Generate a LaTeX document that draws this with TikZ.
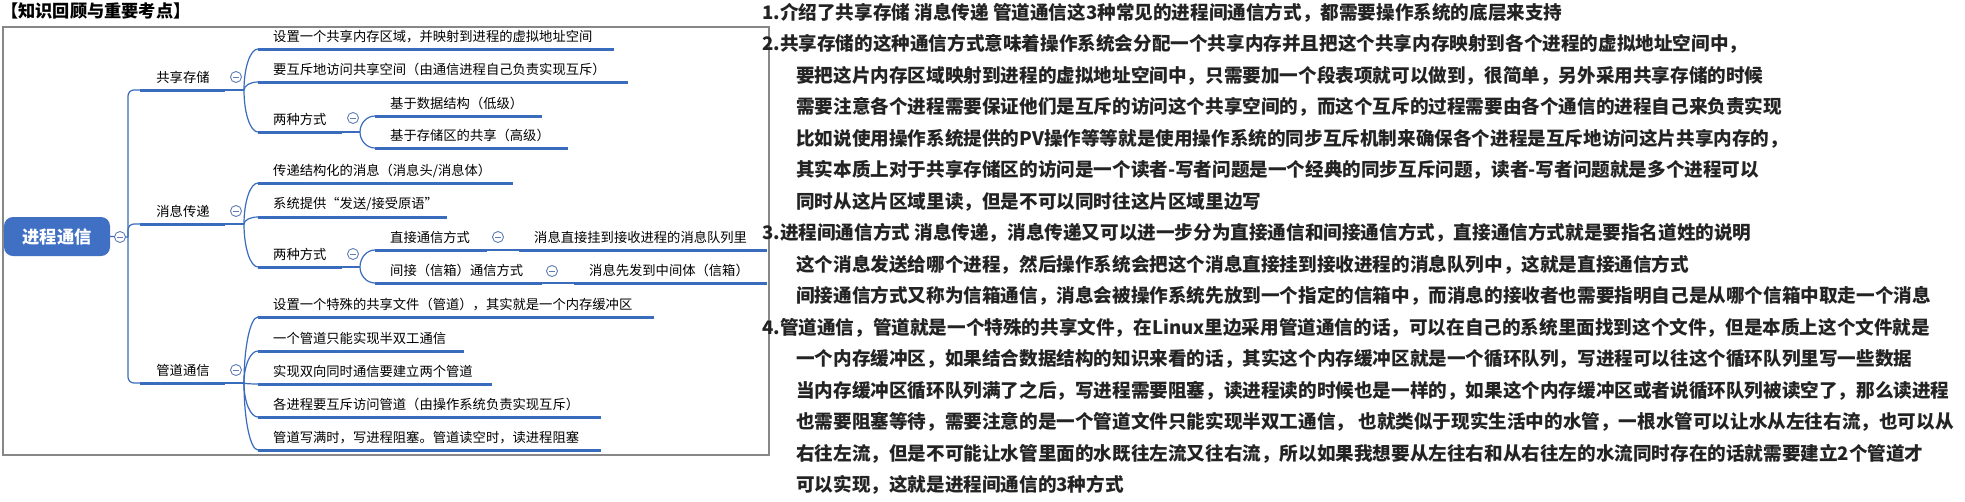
\documentclass[tikz,border=0pt]{standalone}
\usepackage{fontspec}
\setmainfont{Noto Sans CJK SC}
\usetikzlibrary{calc}
\definecolor{mmblue}{RGB}{58,108,190}
\definecolor{rootblue}{RGB}{64,112,196}
\definecolor{txtgray}{RGB}{35,35,35}
\definecolor{cirblue}{RGB}{95,125,180}
\definecolor{framegray}{RGB}{135,135,135}
\newcommand{\mmleaf}[5]{%
  \coordinate (#1s) at (#2,#4);
  \coordinate (#1e) at (#3,#4);
  \draw[ubar] (#1s) -- (#1e);
  \node[mmtext] (#1) at ({#2+15},{#4-12.5}) {#5};}
\newcommand{\mmcurve}[2]{%
  \draw[conn] let \p1=(#1), \p2=(#2) in (\p1) .. controls (\x1,{\y1+0.55*(\y2-\y1)}) and ({\x2-0.55*(\x2-\x1)},\y2) .. (\p2);}
\begin{document}
\begin{tikzpicture}[x=1pt,y=-1pt,
  mmtext/.style={anchor=west,inner sep=0pt,font=\fontsize{13.3}{15}\selectfont},
  maintext/.style={inner sep=0pt,font=\fontsize{13.3}{15}\selectfont},
  ubar/.style={draw=mmblue,line width=3pt},
  conn/.style={draw=mmblue,line width=1.2pt},
  rtext/.style={anchor=west,inner sep=0pt,text=txtgray,font=\fontsize{18.6}{22}\selectfont\bfseries},
  titletext/.style={anchor=west,inner sep=0pt,font=\fontsize{17.2}{20}\selectfont\bfseries},
  rootbox/.style={rectangle,rounded corners=9pt,fill=rootblue,text=white,minimum width=106pt,minimum height=39pt,inner sep=0pt,font=\fontsize{17.3}{20}\selectfont\bfseries},
  ccirc/.style={circle,draw=cirblue,fill=white,line width=0.9pt,minimum size=11pt,inner sep=0pt,
    path picture={\draw[cirblue,line width=0.9pt] ([xshift=-3pt]path picture bounding box.center) -- ([xshift=3pt]path picture bounding box.center);}}
]
\useasboundingbox (0,0) rectangle (1965,501);
\fill[white] (0,0) rectangle (1965,501);
\node[titletext] (title) at (1,11) {【知识回顾与重要考点】};
\draw[framegray,line width=1.2pt] (3,27) rectangle (769,455);

% root
\node[rootbox] (root) at (57,236.5) {进程通信};
\coordinate (j0) at (128,237);
\draw[conn] (root.east) -- (j0);

% main branches
\coordinate (m1s) at (140,90); \coordinate (m1e) at (225,90); \coordinate (j1) at (244,90);
\coordinate (m2s) at (140,224); \coordinate (m2e) at (225,224); \coordinate (j2) at (244,224);
\coordinate (m3s) at (140,383); \coordinate (m3e) at (225,383); \coordinate (j3) at (244,383);
\draw[conn,rounded corners=6pt] (j0) |- (m1s);
\draw[conn,rounded corners=6pt] (j0) |- (m2s);
\draw[conn,rounded corners=6pt] (j0) |- (m3s);
\draw[ubar] (m1s) -- (m1e); \draw[conn] (m1e) -- (j1);
\draw[ubar] (m2s) -- (m2e); \draw[conn] (m2e) -- (j2);
\draw[ubar] (m3s) -- (m3e); \draw[conn] (m3e) -- (j3);
\node[maintext] (m1) at (183,77) {共享存储};
\node[maintext] (m2) at (183,211) {消息传递};
\node[maintext] (m3) at (183,370) {管道通信};

% shared memory
\mmleaf{a1}{258}{614}{49}{设置一个共享内存区域，并映射到进程的虚拟地址空间}
\mmleaf{a2}{258}{628}{82}{要互斥地访问共享空间（由通信进程自己负责实现互斥）}
\mmleaf{a3}{258}{342}{132}{两种方式}
\mmcurve{j1}{a1s} \mmcurve{j1}{a2s} \mmcurve{j1}{a3s}
\coordinate (ja3) at (360,132);
\draw[conn] (a3e) -- (ja3);
\mmleaf{a31}{375}{542}{116}{基于数据结构（低级）}
\mmleaf{a32}{375}{568}{148}{基于存储区的共享（高级）}
\mmcurve{ja3}{a31s} \mmcurve{ja3}{a32s}

% message passing
\mmleaf{b1}{258}{513}{183}{传递结构化的消息（消息头/消息体）}
\mmleaf{b2}{258}{447}{217}{系统提供“发送/接受原语”}
\mmleaf{b3}{258}{342}{267}{两种方式}
\mmcurve{j2}{b1s} \mmcurve{j2}{b2s} \mmcurve{j2}{b3s}
\coordinate (jb3) at (360,267);
\draw[conn] (b3e) -- (jb3);
\mmleaf{b31}{375}{487}{250}{直接通信方式}
\mmleaf{b32}{375}{542}{283}{间接（信箱）通信方式}
\mmcurve{jb3}{b31s} \mmcurve{jb3}{b32s}
\mmleaf{b311}{519}{767}{250}{消息直接挂到接收进程的消息队列里}
\mmleaf{b321}{574}{767}{283}{消息先发到中间体（信箱）}
\draw[conn] (b31e) -- (b311s);
\draw[conn] (b32e) -- (b321s);

% pipes
\mmleaf{p1}{258}{654}{317}{设置一个特殊的共享文件（管道），其实就是一个内存缓冲区}
\mmleaf{p2}{258}{464}{351}{一个管道只能实现半双工通信}
\mmleaf{p3}{258}{492}{384}{实现双向同时通信要建立两个管道}
\mmleaf{p4}{258}{601}{417}{各进程要互斥访问管道（由操作系统负责实现互斥）}
\mmleaf{p5}{258}{601}{450}{管道写满时，写进程阻塞。管道读空时，读进程阻塞}
\mmcurve{j3}{p1s} \mmcurve{j3}{p2s} \mmcurve{j3}{p3s} \mmcurve{j3}{p4s} \mmcurve{j3}{p5s}

% collapse circles
\node[ccirc] (k0) at (120,237) {};
\node[ccirc] (k1) at (236,77) {};
\node[ccirc] (k2) at (236,211) {};
\node[ccirc] (k3) at (236,370) {};
\node[ccirc] (ka3) at (353,118) {};
\node[ccirc] (kb3) at (353,254) {};
\node[ccirc] (kb31) at (498,237) {};
\node[ccirc] (kb32) at (552,271) {};

% right text
\node[rtext] (t0) at (762,12.5) {1.介绍了共享存储 消息传递 管道通信这3种常见的进程间通信方式，都需要操作系统的底层来支持};
\node[rtext] (t1) at (762,44) {2.共享存储的这种通信方式意味着操作系统会分配一个共享内存并且把这个共享内存映射到各个进程的虚拟地址空间中，};
\node[rtext] (t2) at (796,75.5) {要把这片内存区域映射到进程的虚拟地址空间中，只需要加一个段表项就可以做到，很简单，另外采用共享存储的时候};
\node[rtext] (t3) at (796,107) {需要注意各个进程需要保证他们是互斥的访问这个共享空间的，而这个互斥的过程需要由各个通信的进程自己来负责实现};
\node[rtext] (t4) at (796,138.5) {比如说使用操作系统提供的PV操作等等就是使用操作系统的同步互斥机制来确保各个进程是互斥地访问这片共享内存的，};
\node[rtext] (t5) at (796,170) {其实本质上对于共享存储区的访问是一个读者-写者问题是一个经典的同步互斥问题，读者-写者问题就是多个进程可以};
\node[rtext] (t6) at (796,201.5) {同时从这片区域里读，但是不可以同时往这片区域里边写};
\node[rtext] (t7) at (762,233) {3.进程间通信方式 消息传递，消息传递又可以进一步分为直接通信和间接通信方式，直接通信方式就是要指名道姓的说明};
\node[rtext] (t8) at (796,264.5) {这个消息发送给哪个进程，然后操作系统会把这个消息直接挂到接收进程的消息队列中，这就是直接通信方式};
\node[rtext] (t9) at (796,296) {间接通信方式又称为信箱通信，消息会被操作系统先放到一个指定的信箱中，而消息的接收者也需要指明自己是从哪个信箱中取走一个消息};
\node[rtext] (t10) at (762,327.5) {4.管道通信，管道就是一个特殊的共享文件，在Linux里边采用管道通信的话，可以在自己的系统里面找到这个文件，但是本质上这个文件就是};
\node[rtext] (t11) at (796,359) {一个内存缓冲区，如果结合数据结构的知识来看的话，其实这个内存缓冲区就是一个循环队列，写进程可以往这个循环队列里写一些数据};
\node[rtext] (t12) at (796,390.5) {当内存缓冲区循环队列满了之后，写进程需要阻塞，读进程读的时候也是一样的，如果这个内存缓冲区或者说循环队列被读空了，那么读进程};
\node[rtext] (t13) at (796,422) {也需要阻塞等待，需要注意的是一个管道文件只能实现半双工通信， 也就类似于现实生活中的水管，一根水管可以让水从左往右流，也可以从};
\node[rtext] (t14) at (796,453.5) {右往左流，但是不可能让水管里面的水既往左流又往右流，所以如果我想要从左往右和从右往左的水流同时存在的话就需要建立2个管道才};
\node[rtext] (t15) at (796,485) {可以实现，这就是进程间通信的3种方式};
\end{tikzpicture}
\end{document}
